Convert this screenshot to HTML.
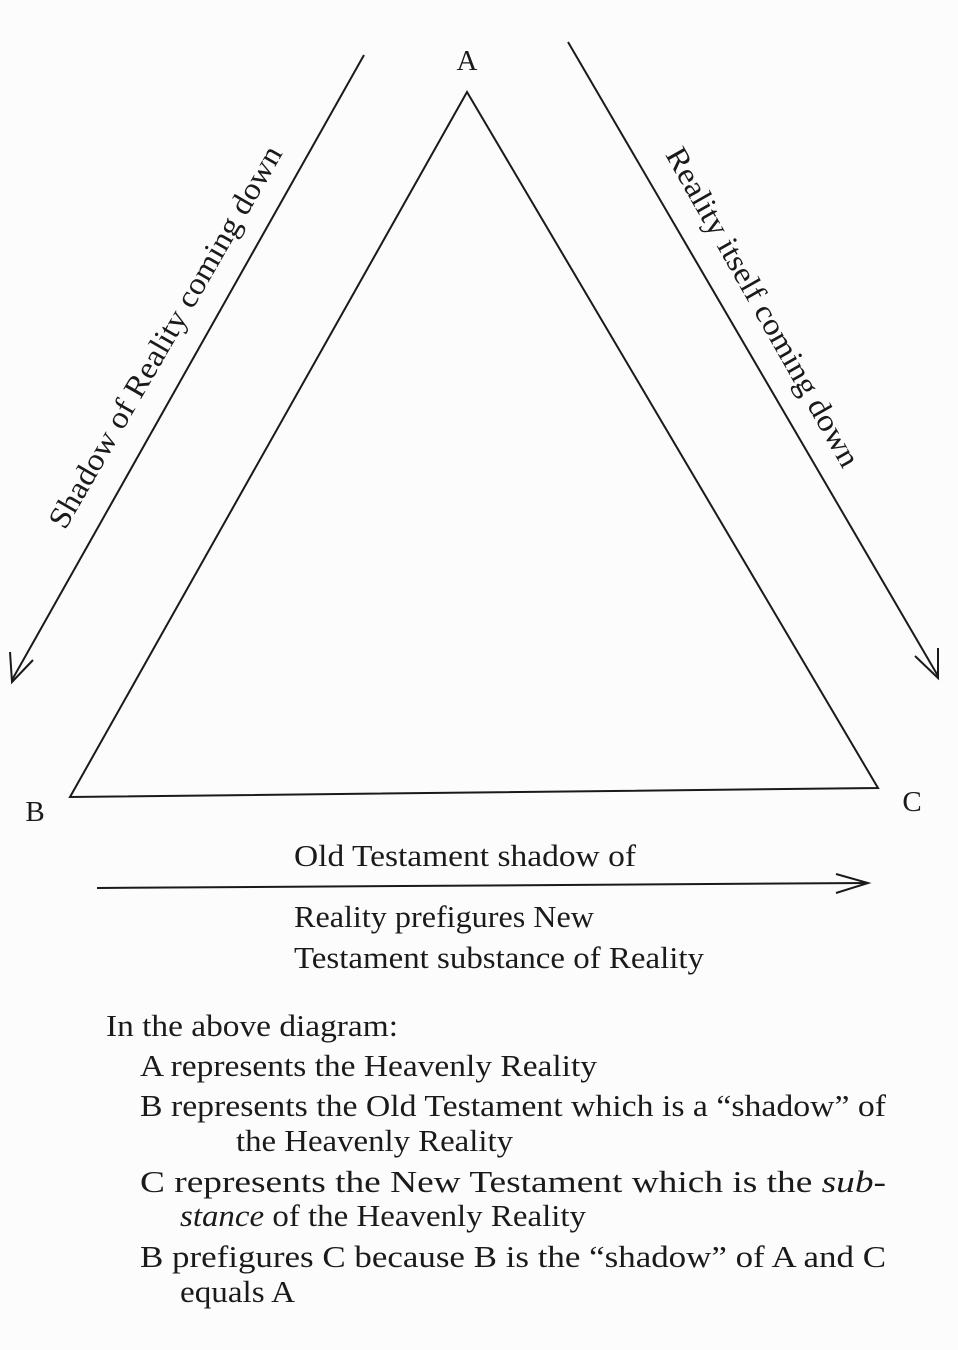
<!DOCTYPE html>
<html><head><meta charset="utf-8"><style>
html,body{margin:0;padding:0;background:#fcfcfc;}
svg{display:block;}
text{font-family:"Liberation Serif",serif;fill:#1a1a1a;}
</style></head><body>
<svg width="958" height="1350" viewBox="0 0 958 1350" xmlns="http://www.w3.org/2000/svg">
<g stroke="#1a1a1a" stroke-width="2" fill="none">
<polygon points="467,92 70,797 878,788"/>
<line x1="364" y1="55" x2="12" y2="680"/>
<polyline points="10,652 12,682 33,660"/>
<line x1="568" y1="42" x2="938" y2="676"/>
<polyline points="915,656 938,678 938,648"/>
<line x1="97" y1="888" x2="868" y2="883"/>
<polyline points="836,874 868,883 836,893"/>
</g>
<text x="467" y="70" font-size="29" text-anchor="middle">A</text>
<text x="35" y="821" font-size="29" text-anchor="middle">B</text>
<text x="912" y="811" font-size="29" text-anchor="middle">C</text>
<text transform="translate(174,342) rotate(-60)" font-size="31" text-anchor="middle" textLength="436" lengthAdjust="spacingAndGlyphs">Shadow of Reality coming down</text>
<text transform="translate(754,312) rotate(60.5)" font-size="31" text-anchor="middle" textLength="362" lengthAdjust="spacingAndGlyphs">Reality itself coming down</text>
<g font-size="31">
<text x="294" y="866" textLength="342" lengthAdjust="spacingAndGlyphs">Old Testament shadow of</text>
<text x="294" y="927" textLength="300" lengthAdjust="spacingAndGlyphs">Reality prefigures New</text>
<text x="294" y="968" textLength="410" lengthAdjust="spacingAndGlyphs">Testament substance of Reality</text>
<text x="106" y="1036" textLength="292" lengthAdjust="spacingAndGlyphs">In the above diagram:</text>
<text x="140" y="1076" textLength="457" lengthAdjust="spacingAndGlyphs">A  represents the Heavenly Reality</text>
<text x="140" y="1116" textLength="746" lengthAdjust="spacingAndGlyphs">B  represents the Old Testament which is a “shadow” of</text>
<text x="236" y="1151" textLength="277" lengthAdjust="spacingAndGlyphs">the Heavenly Reality</text>
<text x="140" y="1192" textLength="746" lengthAdjust="spacingAndGlyphs">C  represents the New Testament which is the <tspan font-style="italic">sub-</tspan></text>
<text x="180" y="1226" textLength="406" lengthAdjust="spacingAndGlyphs"><tspan font-style="italic">stance</tspan> of the Heavenly Reality</text>
<text x="140" y="1267" textLength="746" lengthAdjust="spacingAndGlyphs">B  prefigures C because B is the “shadow” of A and C</text>
<text x="180" y="1302" textLength="115" lengthAdjust="spacingAndGlyphs">equals A</text>
</g>
</svg>
</body></html>
